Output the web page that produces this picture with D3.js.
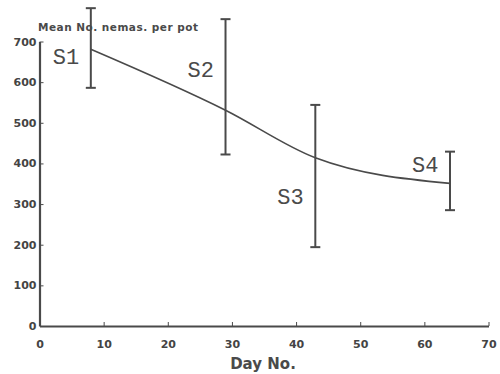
<!DOCTYPE html>
<html>
<head>
<meta charset="utf-8">
<script src="https://cdn.jsdelivr.net/npm/d3@7"></script>
<style>
  body { margin: 0; background: #fff; }
  svg { display: block; }
  .tick text { font-family: "DejaVu Sans", sans-serif; font-weight: bold; font-size: 11px; fill: #444; }
  .slabel { font-family: "Liberation Mono", monospace; font-size: 22px; fill: #4a4a4a; }
</style>
</head>
<body>
<svg width="500" height="374"></svg>
<script>
// sampling days and mean counts
let days = [8, 29, 43, 64];
let means = [681, 531, 414, 351];
let upper = [782, 755, 544, 429];
let lower = [586, 422, 194, 285];
let labels = ["S1", "S2", "S3", "S4"];
let xTicks = [0, 10, 20, 30, 40, 50, 60, 70];
let yTicks = [0, 100, 200, 300, 400, 500, 600, 700];

let data = days.map(function(d, i) {
  return {day: d, mean: means[i], hi: upper[i], lo: lower[i], label: labels[i]};
});

let svg = d3.select("svg");
let ink = "#4a4a4a";

let x = d3.scaleLinear().domain([0, 70]).range([39.5, 488.5]);
let y = d3.scaleLinear().domain([0, 700]).range([326, 41.5]);

// axes
let xAxis = svg.append("g")
    .attr("transform", "translate(0," + y(0) + ")")
    .call(d3.axisBottom(x).tickValues(xTicks).tickSizeInner(-4).tickSizeOuter(0).tickPadding(14));
let yAxis = svg.append("g")
    .attr("transform", "translate(" + x(0) + ",0)")
    .call(d3.axisLeft(y).tickValues(yTicks).tickSizeInner(-4).tickSizeOuter(0).tickPadding(3));

svg.selectAll(".domain").attr("stroke", ink).attr("stroke-width", 2.2);
svg.selectAll(".tick line").attr("stroke", ink).attr("stroke-width", 1);
yAxis.selectAll(".tick").filter(function(d) { return d === 0; }).select("line").remove();
xAxis.selectAll(".tick").filter(function(d) { return d === 0; }).select("line").remove();

// axis titles
svg.append("text")
    .attr("x", 38).attr("y", 31)
    .attr("font-family", "DejaVu Sans, sans-serif")
    .attr("font-weight", "bold").attr("font-size", 10.5)
    .attr("fill", ink)
    .attr("textLength", 160)
    .text("Mean No. nemas. per pot");

svg.append("text")
    .attr("x", (x(0) + x(70)) / 2 - 1).attr("y", 369)
    .attr("text-anchor", "middle")
    .attr("font-family", "DejaVu Sans, sans-serif")
    .attr("font-weight", "bold").attr("font-size", 15)
    .attr("fill", ink)
    .text("Day No.");

// mean curve
let line = d3.line()
    .x(function(d) { return x(d.day); })
    .y(function(d) { return y(d.mean); })
    .curve(d3.curveMonotoneX);

svg.append("path")
    .datum(data)
    .attr("d", line)
    .attr("fill", "none")
    .attr("stroke", ink)
    .attr("stroke-width", 1.6);

// error bars
let bars = svg.append("g").selectAll("g")
  .data(data)
  .enter().append("g")
    .attr("stroke", ink);

bars.append("line")
    .attr("x1", function(d) { return x(d.day); })
    .attr("x2", function(d) { return x(d.day); })
    .attr("y1", function(d) { return y(d.hi); })
    .attr("y2", function(d) { return y(d.lo); })
    .attr("stroke-width", 2);

bars.selectAll(".cap")
  .data(function(d) { return [d.hi, d.lo].map(function(v) { return {day: d.day, v: v}; }); })
  .enter().append("line")
    .attr("class", "cap")
    .attr("x1", function(d) { return x(d.day) - 5; })
    .attr("x2", function(d) { return x(d.day) + 5; })
    .attr("y1", function(d) { return y(d.v); })
    .attr("y2", function(d) { return y(d.v); })
    .attr("stroke-width", 2);

// sample labels, placed left of each bar
let labelShift = -38;
let labelBase = {S1: 64, S2: 77, S3: 204, S4: 172};
svg.append("g").selectAll("text")
  .data(data)
  .enter().append("text")
    .attr("class", "slabel")
    .attr("x", function(d) { return x(d.day) + labelShift; })
    .attr("y", function(d) { return labelBase[d.label]; })
    .text(function(d) { return d.label; });
</script>
</body>
</html>
